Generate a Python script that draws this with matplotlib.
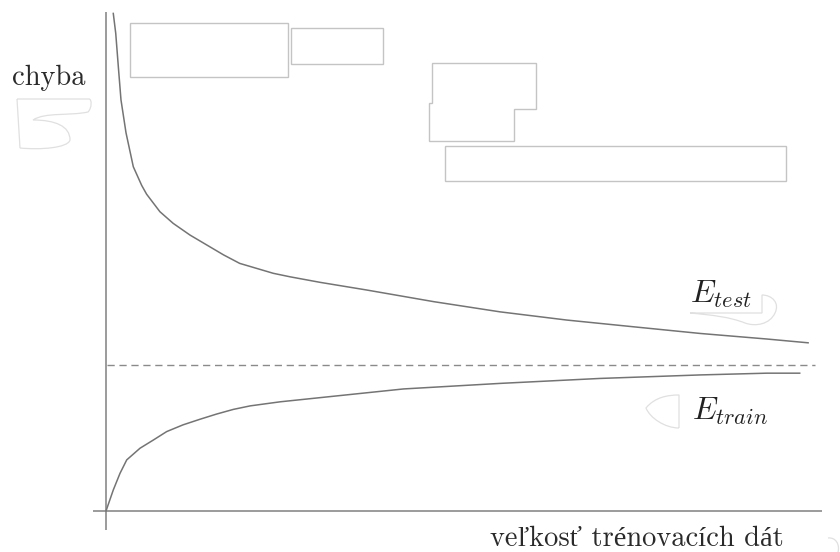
import matplotlib
matplotlib.use("Agg")
import matplotlib.pyplot as plt
from matplotlib.patches import Polygon, PathPatch
from matplotlib.path import Path
from matplotlib.transforms import Affine2D

plt.rcParams['mathtext.fontset'] = 'cm'

# Learning curves: error versus size of the training set
n_test = [1.04, 1.39, 1.76, 2.14, 2.86, 3.9, 5.1, 5.8, 7.7, 9.6, 12.0, 14.4,
          16.8, 19.1, 21.5, 23.9, 26.3, 30.6, 37.2, 46.8, 56.3, 65.8, 75.3,
          84.9, 94.4, 100.3]
e_test = [1.704, 1.636, 1.522, 1.408, 1.295, 1.179, 1.115, 1.085, 1.025,
          0.985, 0.945, 0.911, 0.877, 0.848, 0.831, 0.814, 0.802, 0.783,
          0.757, 0.717, 0.682, 0.654, 0.631, 0.608, 0.589, 0.576]

n_train = [0.0, 1.04, 2.0, 2.96, 4.86, 6.76, 8.67, 11.0, 13.4, 15.8, 18.2,
           20.6, 24.9, 42.5, 56.3, 70.6, 84.9, 94.4, 99.1]
e_train = [0.0, 0.072, 0.129, 0.175, 0.215, 0.243, 0.272, 0.295, 0.314,
           0.332, 0.348, 0.360, 0.374, 0.418, 0.437, 0.454, 0.466, 0.472,
           0.472]

asymptote = 0.5
dash_span = [0.1, 101.3]

ylabel = "chyba"
xlabel = "veľkosť trénovacích dát"
test_label = r"$E_{test}$"
train_label = r"$E_{train}$"

W, H = 840, 552
fig = plt.figure(figsize=(W / 100, H / 100), dpi=100)
ax = fig.add_axes([0, 0, 1, 1])
ax.set_xlim(-106 / 7, (W - 106) / 7)
ax.set_ylim(-(H - 511) / 292, 511 / 292)
ax.axis('off')

axis_col = '#8a8a8a'
curve_col = '#747474'

# coordinate axes
ax.plot([-1.86, 102.3], [0, 0], color=axis_col, lw=1.2, solid_capstyle='butt')
ax.plot([0, 0], [-0.065, 1.709], color=axis_col, lw=1.2, solid_capstyle='butt')

# curves and asymptote
ax.plot(n_test, e_test, color=curve_col, lw=1.1)
ax.plot(n_train, e_train, color=curve_col, lw=1.1)
ax.plot(dash_span, [asymptote, asymptote], color='#8a8a8a', lw=1.0,
        dashes=(5.2, 3.4))

# pixel-space transform for annotations and frames
px = Affine2D().scale(1 / W, -1 / H).translate(0, 1) + fig.transFigure

font = ['cmr10', 'Liberation Serif']
fig.text(12, 85, ylabel, transform=px, fontsize=20.5, family=font,
         color='#2a2a2a', va='baseline', ha='left')
fig.text(490, 546, xlabel, transform=px, fontsize=20.5, family=font,
         color='#2a2a2a', va='baseline', ha='left')
fig.text(690, 303, test_label, transform=px, fontsize=23,
         color='#222222', va='baseline', ha='left')
fig.text(692, 420, train_label, transform=px, fontsize=23,
         color='#222222', va='baseline', ha='left')

# empty frames
frame_col = '#c4c4c4'
frames = [
    [(130, 22.5), (288, 22.5), (288, 77), (130, 77)],
    [(291, 27.5), (383, 27.5), (383, 64), (291, 64)],
    [(432, 63), (536, 63), (536, 109), (514, 109), (514, 141), (429, 141),
     (429, 103), (432, 103)],
    [(445, 146), (786, 146), (786, 181), (445, 181)],
]
for pts in frames:
    fig.patches.append(Polygon(pts, closed=True, fill=False, ec=frame_col,
                               lw=1.0, transform=px))

# faint outlines
faint = '#e0e0e0'
C = Path.CURVE4
blobs = [
    ([(17, 99), (89, 99), (92, 99), (92, 108), (88, 112), (70, 116), (45, 112),
      (33, 120), (55, 120), (70, 126), (70, 140), (68, 148), (40, 150),
      (20, 148), (17, 99)],
     [Path.MOVETO, Path.LINETO, C, C, C, C, C, C, C, C, C, C, C, C, Path.LINETO]),
    ([(690, 313), (762, 313), (762, 295), (772, 295), (780, 303), (775, 313),
      (770, 324), (756, 327), (745, 323), (730, 317), (712, 315), (690, 313)],
     [Path.MOVETO, Path.LINETO, Path.LINETO, C, C, C, C, C, C, C, C, C]),
    ([(679, 428), (679, 395), (668, 395), (655, 397), (646, 408), (650, 418),
      (665, 428), (679, 428)],
     [Path.MOVETO, Path.LINETO, C, C, C, C, C, C]),
    ([(828, 538), (836, 537), (840, 545), (838, 552)],
     [Path.MOVETO, C, C, C]),
]
for verts, codes in blobs:
    fig.patches.append(PathPatch(Path(verts, codes), fill=False, ec=faint,
                                 lw=0.9, transform=px))

fig.savefig('out.png', dpi=100, facecolor='white')
